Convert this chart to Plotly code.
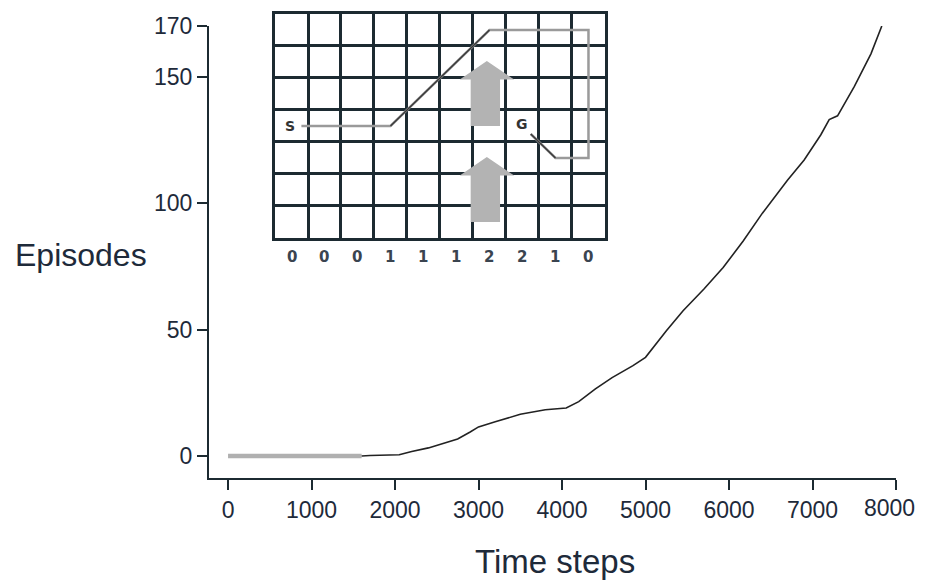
import plotly.graph_objects as go

# ---- main learning curve ----
time_steps = [0, 1600, 1700, 2050, 2200, 2400, 2600, 2750, 2900, 3000, 3200, 3500, 3800,
              4050, 4200, 4400, 4600, 4850, 5000, 5250, 5450, 5700, 5930, 6170, 6400,
              6700, 6900, 7100, 7200, 7300, 7500, 7700, 7830]
episodes = [0, 0, 0.2, 0.5, 1.8, 3.2, 5.2, 6.7, 9.5, 11.5, 13.5, 16.5, 18.3,
            19, 21.5, 26.5, 31, 35.7, 39, 49.5, 57.4, 66, 74.5, 85, 96,
            109, 117, 127, 133, 134.5, 146, 159, 170]
gray_until = 1600

x_ticks = [0, 1000, 2000, 3000, 4000, 5000, 6000, 7000, 8000]
y_ticks = [0, 50, 100, 150, 170]

# ---- inset: windy gridworld ----
n_cols, n_rows = 10, 7
wind = [0, 0, 0, 1, 1, 1, 2, 2, 1, 0]
start_cell = (0, 3)
goal_cell = (7, 3)
path_x = [0.8, 3.5, 6.5, 9.5, 9.5, 8.5, 7.75]
path_y = [3.5, 3.5, 6.5, 6.5, 2.5, 2.5, 3.25]

FONT = "Liberation Sans, Arial, sans-serif"
AX = "#1c2a31"
TXT = "#1e2a3a"

INSET_X = [0.2925, 0.6567]
INSET_Y = [0.5986, 0.99296]

fig = go.Figure()

gx = [t for t in time_steps if t <= gray_until]
gy = [e for t, e in zip(time_steps, episodes) if t <= gray_until]
bx = [t for t in time_steps if t >= gray_until]
by = [e for t, e in zip(time_steps, episodes) if t >= gray_until]

fig.add_trace(go.Scatter(x=gx, y=gy, mode="lines",
                         line=dict(color="#b0b0b0", width=4.5), hoverinfo="skip"))
fig.add_trace(go.Scatter(x=bx, y=by, mode="lines",
                         line=dict(color="#222222", width=1.6), hoverinfo="skip"))

# inset path
fig.add_trace(go.Scatter(x=path_x, y=path_y, mode="lines", xaxis="x2", yaxis="y2",
                         line=dict(color="#9a9a9a", width=2.5), hoverinfo="skip"))
diag_x = [path_x[1], path_x[2], None, path_x[5], path_x[6]]
diag_y = [path_y[1], path_y[2], None, path_y[5], path_y[6]]
fig.add_trace(go.Scatter(x=diag_x, y=diag_y, mode="lines", xaxis="x2", yaxis="y2",
                         line=dict(color="#3a3a3a", width=1.5), hoverinfo="skip"))

# the last x tick label would run past the visible edge: draw it as an annotation
x_ticktext = [str(v) for v in x_ticks[:-1]] + [""]

annotations = [
    dict(text="Episodes", x=0.0784, y=0.5687, xref="paper", yref="paper",
         showarrow=False, xanchor="center", yanchor="middle",
         font=dict(family=FONT, size=32, color=TXT)),
    dict(text="Time steps", x=0.6015, y=0.0299, xref="paper", yref="paper",
         showarrow=False, xanchor="center", yanchor="middle",
         font=dict(family=FONT, size=33, color=TXT)),
    dict(text=str(x_ticks[-1]), x=x_ticks[-1], xref="x", y=0.1232, yref="paper",
         xshift=-6, showarrow=False, xanchor="center", yanchor="middle",
         font=dict(family=FONT, size=23, color=TXT)),
    dict(text="<b>S</b>", x=start_cell[0] + 0.45, y=start_cell[1] + 0.5, xref="x2", yref="y2",
         showarrow=False, font=dict(family="DejaVu Sans", size=14, color="#333333")),
    dict(text="<b>G</b>", x=goal_cell[0] + 0.5, y=goal_cell[1] + 0.55, xref="x2", yref="y2",
         showarrow=False, font=dict(family="DejaVu Sans", size=14, color="#333333")),
]
col_w = (INSET_X[1] - INSET_X[0]) / n_cols
for i, w in enumerate(wind):
    annotations.append(dict(text=f"<b>{w}</b>", x=INSET_X[0] + (i + 0.5) * col_w,
                            y=0.5651, xref="paper", yref="paper",
                            xanchor="center", yanchor="middle", showarrow=False,
                            font=dict(family="DejaVu Sans", size=15, color="#3a4450")))

# wind arrows
shapes = []
for base in (0.5, 3.5):
    p = (f"M 5.93 {base} L 5.93 {base + 1.45} L 5.6 {base + 1.45} "
         f"L 6.42 {base + 2.03} L 7.25 {base + 1.45} L 6.82 {base + 1.45} "
         f"L 6.82 {base} Z")
    shapes.append(dict(type="path", path=p, xref="x2", yref="y2",
                       fillcolor="#b3b3b3", line=dict(width=0), layer="above"))

fig.update_layout(
    width=918, height=572,
    margin=dict(l=2, r=10, t=2, b=2),
    paper_bgcolor="white", plot_bgcolor="rgba(0,0,0,0)",
    showlegend=False,
    shapes=shapes,
    annotations=annotations,
    xaxis=dict(domain=[0.21965, 0.97792], range=[-228, 8000], automargin=False,
               showgrid=False, zeroline=False, showline=True, linecolor=AX, linewidth=2,
               ticks="outside", ticklen=10, tickwidth=2, tickcolor=AX,
               tickvals=x_ticks, ticktext=x_ticktext,
               tickfont=dict(family=FONT, size=23, color=TXT)),
    yaxis=dict(domain=[0.17606, 0.97183], range=[-8.7, 170], automargin=False,
               showgrid=False, zeroline=False, showline=True, linecolor=AX, linewidth=2,
               ticks="outside", ticklen=10, tickwidth=2, tickcolor=AX,
               tickvals=y_ticks, ticktext=[str(v) for v in y_ticks],
               tickfont=dict(family=FONT, size=23, color=TXT)),
    xaxis2=dict(domain=INSET_X, range=[0, n_cols], anchor="y2", automargin=False,
                showgrid=True, gridcolor=AX, gridwidth=2.5, dtick=1, tick0=0,
                zeroline=False, showline=True, mirror=True, linecolor=AX, linewidth=3,
                showticklabels=False, ticks=""),
    yaxis2=dict(domain=INSET_Y, range=[0, n_rows], anchor="x2", automargin=False,
                showgrid=True, gridcolor=AX, gridwidth=2.5, dtick=1, tick0=0,
                zeroline=False, showline=True, mirror=True, linecolor=AX, linewidth=3,
                showticklabels=False, ticks=""),
)

fig.write_html("out.html")
